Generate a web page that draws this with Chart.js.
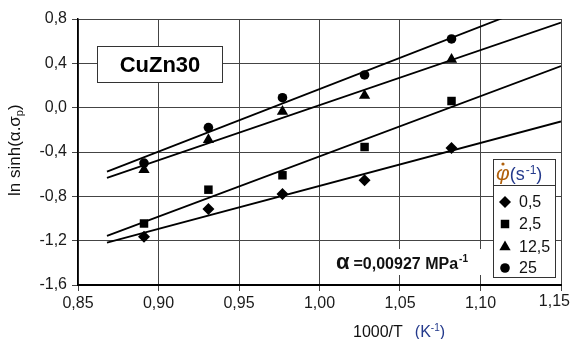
<!DOCTYPE html>
<html>
<head>
<meta charset="utf-8">
<script src="https://cdn.jsdelivr.net/npm/chart.js@4.4.0/dist/chart.umd.min.js"></script>
<style>
  html, body { margin: 0; padding: 0; background: #fff; }
  #wrap { width: 571px; height: 339px; }
</style>
</head>
<body>
<div id="wrap"><canvas id="chart" width="571" height="339"></canvas></div>
<script>
// 1000/T values (K^-1) and ln sinh(alpha.sigma_p) for each strain rate
const invTemp = [0.891, 0.931, 0.977, 1.028, 1.082];
const rate05  = [-1.165, -0.915, -0.78, -0.655, -0.365];
const rate25  = [-1.045, -0.74, -0.61, -0.355, 0.06];
const rate125 = [-0.56, -0.29, -0.035, 0.11, 0.435];
const rate250 = [-0.50, -0.18, 0.09, 0.295, 0.62];
const rateLabels = ['0,5', '2,5', '12,5', '25'];
const markerStyles = ['rectRot', 'rect', 'triangle', 'circle'];
const markerSizes = [6, 6, 6.5, 4.8];
const fitRange = [0.868, 1.15];

const FONT = '"Liberation Sans", Arial, sans-serif';
const fmt = (v, d) => v.toFixed(d).replace('.', ',');

function linFit(xs, ys) {
    const n = xs.length;
    const mx = xs.reduce((a, b) => a + b, 0) / n;
    const my = ys.reduce((a, b) => a + b, 0) / n;
    let sxy = 0, sxx = 0;
    for (let i = 0; i < n; i++) {
        sxy += (xs[i] - mx) * (ys[i] - my);
        sxx += (xs[i] - mx) * (xs[i] - mx);
    }
    const m = sxy / sxx;
    return x => my + m * (x - mx);
}

const series = [rate05, rate25, rate125, rate250];
const datasets = [];
series.forEach((ys, i) => {
    datasets.push({
        label: rateLabels[i],
        data: invTemp.map((x, j) => ({ x: x, y: ys[j] })),
        pointStyle: markerStyles[i],
        pointRadius: markerSizes[i],
        pointBackgroundColor: '#000',
        pointBorderWidth: 0,
        showLine: false,
        order: 0
    });
});
series.forEach((ys, i) => {
    const f = linFit(invTemp, ys);
    datasets.push({
        label: 'fit ' + rateLabels[i],
        data: fitRange.map(x => ({ x: x, y: f(x) })),
        showLine: true,
        borderColor: '#000',
        borderWidth: 1.8,
        pointRadius: 0,
        clip: 0,
        order: 1
    });
});

function drawMarker(ctx, style, x, y, r) {
    ctx.beginPath();
    if (style === 'rectRot') {
        ctx.moveTo(x, y - r); ctx.lineTo(x + r, y); ctx.lineTo(x, y + r); ctx.lineTo(x - r, y);
    } else if (style === 'rect') {
        const s = r * Math.SQRT1_2;
        ctx.rect(x - s, y - s, 2 * s, 2 * s);
    } else if (style === 'triangle') {
        for (let k = 0; k < 3; k++) {
            const a = -Math.PI / 2 + k * 2 * Math.PI / 3;
            const px = x + r * Math.cos(a), py = y + r * Math.sin(a);
            if (k === 0) ctx.moveTo(px, py); else ctx.lineTo(px, py);
        }
    } else {
        ctx.arc(x, y, r, 0, Math.PI * 2);
    }
    ctx.closePath();
    ctx.fill();
}

// draw a run of [text, font, color, dy, gap] pieces from x on baseline y
function drawRun(ctx, pieces, x, y) {
    ctx.textBaseline = 'alphabetic';
    ctx.textAlign = 'left';
    pieces.forEach(p => {
        ctx.font = p[1];
        ctx.fillStyle = p[2];
        ctx.fillText(p[0], x, y + (p[3] || 0));
        x += ctx.measureText(p[0]).width + (p[4] || 0);
    });
    return x;
}

const annotations = {
    id: 'annotations',
    afterDraw(chart) {
        const ctx = chart.ctx;
        const xs = chart.scales.x;
        ctx.save();

        // last x tick label sits inside the canvas edge
        ctx.font = '16px ' + FONT;
        ctx.fillStyle = '#1a1a1a';
        ctx.textAlign = 'right';
        ctx.textBaseline = 'top';
        ctx.fillText(fmt(xs.max, 2), 570, xs.top + 9);

        // sample label box
        ctx.fillStyle = '#fff';
        ctx.fillRect(97.5, 46.5, 125, 36);
        ctx.strokeStyle = '#333';
        ctx.lineWidth = 1;
        ctx.strokeRect(97.5, 46.5, 125, 36);
        ctx.fillStyle = '#000';
        ctx.font = 'bold 22px ' + FONT;
        ctx.textAlign = 'center';
        ctx.textBaseline = 'middle';
        ctx.fillText('CuZn30', 160, 65.5);

        // alpha note
        ctx.fillStyle = '#fff';
        ctx.fillRect(333, 249, 150, 26);
        drawRun(ctx, [
            ['\u03B1', 'bold 22px ' + FONT, '#111', 0, 4],
            ['=0,00927 MPa', 'bold 16px ' + FONT, '#111', 0, 1],
            ['-1', 'bold 10px ' + FONT, '#111', -7]
        ], 336, 269);

        // legend
        const lx = 493.5, ly = 159.5, lw = 62, lh = 118;
        ctx.fillStyle = '#fff';
        ctx.fillRect(lx, ly, lw, lh);
        ctx.strokeStyle = '#333';
        ctx.strokeRect(lx, ly, lw, lh);
        ctx.beginPath();
        ctx.moveTo(lx, 185.5); ctx.lineTo(lx + lw, 185.5);
        ctx.stroke();
        const endPhi = drawRun(ctx, [
            ['\u03C6', 'italic 21px ' + FONT, '#b0600c', 0, 0]
        ], 496, 180);
        ctx.fillStyle = '#b0600c';
        ctx.beginPath();
        ctx.arc(503, 164, 1.6, 0, Math.PI * 2);
        ctx.fill();
        drawRun(ctx, [
            ['(s', '18px ' + FONT, '#243a8c', 0, 1],
            ['-1', '12px ' + FONT, '#243a8c', -6],
            [')', '18px ' + FONT, '#243a8c', 0]
        ], endPhi, 180);
        const rowY = [202, 224, 247, 268];
        rateLabels.forEach((lab, i) => {
            ctx.fillStyle = '#000';
            drawMarker(ctx, markerStyles[i], 505, rowY[i], markerSizes[i]);
            ctx.font = '16px ' + FONT;
            ctx.fillStyle = '#111';
            ctx.textAlign = 'left';
            ctx.textBaseline = 'middle';
            ctx.fillText(lab, 519, rowY[i] + 1);
        });

        // y axis title
        ctx.save();
        ctx.translate(20, 196);
        ctx.rotate(-Math.PI / 2);
        drawRun(ctx, [
            ['ln sinh(\u03B1.\u03C3', '17px ' + FONT, '#111', 0],
            ['p', '11px ' + FONT, '#111', 3],
            [')', '17px ' + FONT, '#111', 0]
        ], 0, 0);
        ctx.restore();

        // x axis title
        drawRun(ctx, [
            ['1000/T', '16px ' + FONT, '#111', 0, 12],
            ['(K', '16px ' + FONT, '#243a8c', 0],
            ['-1', '10px ' + FONT, '#243a8c', -6],
            [')', '16px ' + FONT, '#243a8c', 0]
        ], 353, 337);

        ctx.restore();
    }
};

new Chart(document.getElementById('chart').getContext('2d'), {
    type: 'scatter',
    data: { datasets: datasets },
    options: {
        responsive: false,
        animation: false,
        events: [],
        layout: { padding: { top: 19, right: 10, left: 0, bottom: 0 } },
        plugins: { legend: { display: false }, tooltip: { enabled: false } },
        scales: {
            x: {
                type: 'linear',
                min: 0.85,
                max: 1.15,
                ticks: {
                    stepSize: 0.05,
                    callback: v => (Math.abs(v - 1.15) < 1e-6 ? '' : fmt(v, 2)),
                    font: { family: FONT, size: 16 },
                    color: '#1a1a1a',
                    padding: 3,
                    maxRotation: 0
                },
                grid: { color: '#444', lineWidth: 1, tickLength: 6 },
                border: { color: '#000', width: 2 },
                afterFit: s => { s.height = 54; s.paddingRight = 10; s.paddingLeft = 0; }
            },
            y: {
                min: -1.6,
                max: 0.8,
                ticks: {
                    stepSize: 0.4,
                    callback: v => fmt(v, 1),
                    font: { family: FONT, size: 16 },
                    color: '#1a1a1a',
                    padding: 5
                },
                grid: { color: '#444', lineWidth: 1, tickLength: 6 },
                border: { color: '#000', width: 1.5 },
                afterFit: s => { s.width = 78; s.paddingTop = 0; s.paddingBottom = 0; }
            }
        }
    },
    plugins: [annotations]
});
</script>
</body>
</html>
